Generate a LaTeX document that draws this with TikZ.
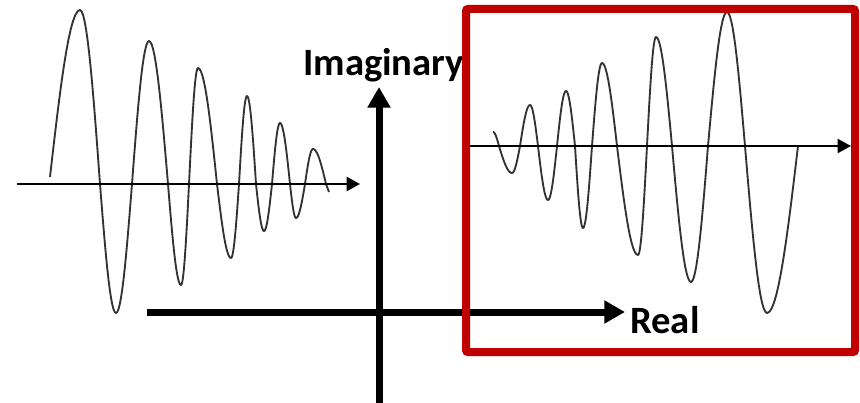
\documentclass[tikz,border=0pt]{standalone}
\usepackage{fontspec}
\setmainfont{Carlito}
\usetikzlibrary{arrows.meta}
\definecolor{boxred}{HTML}{C00000}
\begin{document}
\begin{tikzpicture}[x=0.75pt,y=-0.75pt,
  thinaxis/.style={line width=1.5pt, -{Triangle[length=10pt,width=10.5pt]}},
  thickaxis/.style={line width=5.25pt, -{Triangle[length=15.5pt,width=16.5pt]}},
  wave/.style={line width=1.4pt, black!80, line join=round},
  lbl/.style={font=\fontsize{29}{33}\selectfont\bfseries, inner sep=0pt},
  redbox/.style={draw=boxred, line width=6pt, rounded corners=1.5pt}]
\useasboundingbox (0,0) rectangle (860,403);
% waves: segments xa/ya/xb/yb/k (k=1: zero->extreme, k=0: extreme->zero)
\draw[wave] (50,177) foreach \xa/\ya/\xb/\yb/\k in {
  50/177/80/10/1, 80/10/100/184/0, 100/184/116/313/1, 116/313/132/184/0,
  132/184/149/41/1, 149/41/168/184/0, 168/184/181/285/1, 181/285/189/184/0,
  189/184/198/68/1, 198/68/217/184/0, 217/184/231/258/1, 231/258/239/184/0,
  239/184/247/96/1, 247/96/256/184/0, 256/184/264/231/1, 264/231/272/184/0,
  272/184/280/123/1, 280/123/290/184/0, 290/184/296/218/1, 296/218/305/184/0,
  305/184/313/149/1, 313/149/326/184/0}
  { -- plot[domain=0:1, samples=14, variable=\t]
    ({\xa+(\xb-\xa)*\t},{\ya+(\yb-\ya)*(\k*sin(90*\t)+(1-\k)*(1-cos(90*\t)))}) }
  -- (329,192);
\draw[wave] (493,132) foreach \xa/\ya/\xb/\yb/\k in {
  493/132/499/146/0, 499/146/512/173/1, 512/173/520/146/0, 520/146/530/105/1,
  530/105/538/146/0, 538/146/548/200/1, 548/200/557/146/0, 557/146/566/91/1,
  566/91/575/146/0, 575/146/583/228/1, 583/228/592/146/0, 592/146/602/63/1,
  602/63/617/146/0, 617/146/638/255/1, 638/255/647/146/0, 647/146/656/37/1,
  656/37/672/146/0, 672/146/691/282/1, 691/282/708/146/0, 708/146/727/12/1,
  727/12/745/146/0, 745/146/767/313/1, 767/313/798/146/0}
  { -- plot[domain=0:1, samples=14, variable=\t]
    ({\xa+(\xb-\xa)*\t},{\ya+(\yb-\ya)*(\k*sin(90*\t)+(1-\k)*(1-cos(90*\t)))}) };
% axes
\coordinate (lA) at (17,184);  \coordinate (lB) at (360,184);
\coordinate (rA) at (470,146); \coordinate (rB) at (851,146);
\coordinate (hA) at (147,312); \coordinate (hB) at (625,312);
\coordinate (vA) at (379,403); \coordinate (vB) at (379,87);
\draw[thinaxis] (lA) -- (lB);
\draw[thinaxis] (rA) -- (rB);
\draw[thickaxis] (hA) -- (hB);
\draw[thickaxis] (vA) -- (vB);
% labels
\node[lbl, anchor=base west] (imag) at (303,75) {Imaginary};
\node[lbl, anchor=base west] (real) at (630,333) {Real};
% red frame
\draw[redbox] (466,9) rectangle (855,352);
\end{tikzpicture}
\end{document}
